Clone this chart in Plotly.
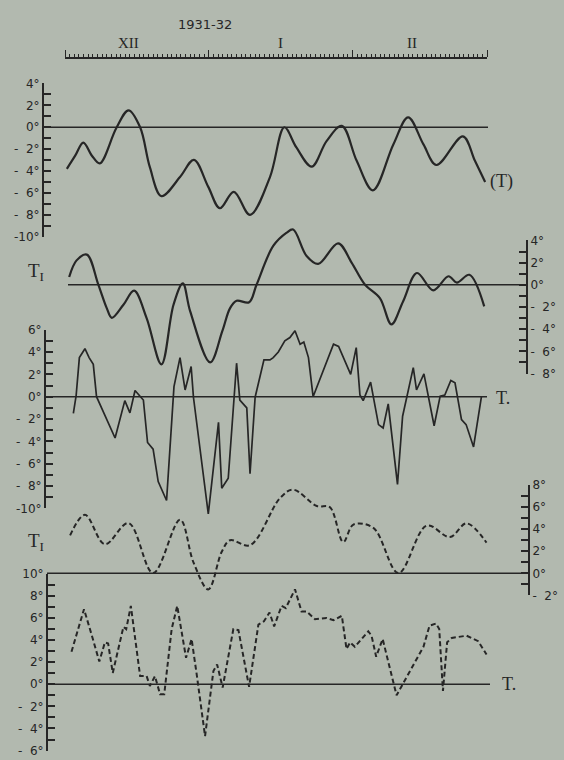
import plotly.graph_objects as go

W, H = 564, 760
BG = "#b2b9af"
INK = "#262626"

# ---------------- data ----------------
year_label = "1931-32"
month_labels = ["XII", "I", "II"]
month_label_days = [13.6, 46.4, 74.8]
month_ticks = [0, 31, 62, 91]          # Dec 1, Jan 1, Feb 1, Mar 1 (day index)

# (T) smoothed
t_smooth_days = [0.4, 2.2, 3.95, 5.8, 7.5, 11.1, 13.7, 16.2, 18.3, 20.8, 24.8, 27.8, 30.9, 33.4,
                 36.4, 39.9, 44.2, 47.3, 49.9, 53.2, 56.4, 59.7, 62.9, 66.4, 70.8, 74.0, 77.3,
                 80.1, 85.8, 88.4, 90.6]
t_smooth_vals = [-3.8, -2.6, -1.4, -2.6, -3.3, -0.05, 1.55, 0.0, -3.65, -6.3, -4.55, -2.98, -5.45, -7.4,
                 -5.9, -8.0, -4.55, 0.0, -1.85, -3.6, -1.27, 0.13, -3.07, -5.76, -1.57, 0.91, -1.57,
                 -3.45, -0.83, -3.07, -5.0]

# T_I smoothed
ti_smooth_days = [0.9, 2.5, 4.7, 7.2, 9.0, 10.1, 12.6, 14.9, 17.6, 20.8, 23.4, 25.4, 27.0, 31.3, 33.9,
                  35.6, 37.0, 39.7, 41.3, 44.9, 47.8, 49.2, 52.1, 54.6, 58.9, 61.8, 64.7, 67.9, 70.4,
                  72.9, 75.9, 79.4, 82.7, 84.5, 87.2, 90.4]
ti_smooth_vals = [0.7, 2.2, 2.72, 0.0, -2.1, -2.98, -1.8, -0.53, -3.0, -7.17, -1.8, 0.12, -2.4, -7.0, -4.2,
                  -2.1, -1.44, -1.57, 0.0, 3.5, 4.7, 4.98, 2.6, 1.88, 3.74, 2.0, 0.0, -1.2, -3.57,
                  -1.5, 1.06, -0.5, 0.77, 0.2, 0.9, -1.95]

# T daily
t_days = [1.8, 2.4, 3.1, 4.3, 5.2, 6.1, 6.8, 10.8, 12.9, 14.0, 15.1, 16.9, 17.8, 19.0, 20.1, 21.9,
          23.5, 24.8, 25.9, 27.2, 27.7, 30.9, 33.1, 33.8, 35.2, 37.0, 37.7, 39.2, 39.9, 41.0, 42.9,
          44.2, 44.9, 46.0, 47.4, 48.5, 49.6, 50.7, 51.5, 52.5, 53.5, 57.9, 59.0, 60.4, 61.6, 62.8,
          63.6, 64.3, 65.9, 67.6, 68.6, 69.7, 71.7, 72.8, 75.1, 75.8, 77.4, 79.6, 80.9, 81.9, 83.2,
          84.1, 85.5, 86.5, 88.1, 89.8]
t_vals = [-1.5, 0.1, 3.5, 4.3, 3.5, 2.9, 0.0, -3.7, -0.35, -1.45, 0.55, -0.3, -4.1, -4.7, -7.6, -9.3,
          0.9, 3.5, 0.6, 2.7, -0.05, -10.5, -2.3, -8.2, -7.3, 3.0, -0.3, -1.0, -6.9, -0.05, 3.3,
          3.3, 3.5, 4.0, 5.0, 5.3, 5.9, 4.7, 4.9, 3.5, 0.0, 4.7, 4.5, 3.2, 2.0, 4.4,
          0.15, -0.35, 1.3, -2.5, -2.8, -0.65, -7.85, -1.75, 2.6, 0.6, 2.05, -2.6, 0.05, 0.15, 1.45,
          1.25, -2.05, -2.5, -4.5, 0.0]

# T_I daily (dashed)
ti_days = [1.1, 4.3, 8.6, 13.7, 19.0, 24.8, 27.7, 30.9, 33.8, 35.6, 39.9, 46.4, 49.2, 54.3, 57.1,
           60.0, 62.2, 66.5, 71.9, 78.0, 83.0, 86.6, 90.9]
ti_vals = [3.44, 5.3, 2.64, 4.56, 0.03, 4.86, 1.0, -1.45, 1.96, 3.0, 2.55, 6.84, 7.58, 6.1, 6.0,
           2.84, 4.42, 4.12, 0.03, 4.33, 3.29, 4.53, 2.78]

# T daily (dashed)
t2_days = [1.4, 4.1, 5.8, 7.4, 8.6, 9.3, 10.3, 12.6, 13.2, 14.2, 16.2, 17.6, 18.3, 19.4, 20.5, 21.4,
           23.0, 24.2, 26.1, 27.3, 28.4, 30.2, 32.0, 32.8, 34.0, 36.3, 37.4, 39.7, 41.7, 42.9, 44.1,
           45.1, 46.7, 47.6, 49.6, 51.0, 52.1, 53.9, 56.4, 57.9, 59.7, 60.7, 61.5, 62.5, 65.4, 66.1,
           67.1, 68.5, 71.5, 77.3, 78.6, 80.0, 80.7, 81.5, 82.4, 83.4, 86.6, 89.1, 90.9]
t2_vals = [2.95, 6.8, 4.4, 2.06, 3.8, 3.7, 1.03, 5.2, 5.0, 7.1, 0.74, 0.74, -0.15, 0.74, -0.9, -0.9,
           5.0, 7.1, 2.4, 4.1, 0.9, -4.7, 1.2, 1.8, -0.3, 5.0, 4.9, -0.24, 5.4, 5.7, 6.5,
           5.25, 7.1, 6.9, 8.6, 6.6, 6.6, 5.9, 6.0, 5.8, 6.2, 3.2, 3.8, 3.4, 4.8, 4.4,
           2.5, 4.1, -1.0, 3.4, 5.3, 5.5, 5.0, -0.6, 3.8, 4.2, 4.4, 3.9, 2.7]

# ---------------- layout geometry (pixels) ----------------
X0_PX, X1_PX, N_DAYS = 65, 487, 91
PX_PER_DAY = (X1_PX - X0_PX) / N_DAYS
RULER_Y_PX = 52

panels = [
    dict(zero=122.5, scale=11.15, lo=-10, hi=4, axis_x=43, side="left", zl=(43, 488)),
    dict(zero=283.0, scale=11.30, lo=-8, hi=4, axis_x=527, side="right", zl=(68, 527)),
    dict(zero=397.0, scale=11.375, lo=-10, hi=6, axis_x=45, side="left", zl=(45, 487)),
    dict(zero=577.0, scale=11.25, lo=-2, hi=8, axis_x=529, side="right", zl=(47, 529)),
    dict(zero=690.0, scale=11.25, lo=-6, hi=10, axis_x=47, side="left", zl=(47, 490)),
]


def fx(px):
    return px / W


def fy(py):
    return 1 - py / H


def deg_label(v):
    if v >= 0:
        return f"{v}°"
    if v <= -10:
        return f"-{-v}°"
    return f"-\u00a0\u00a0{-v}°"


fig = go.Figure()

series = [
    (t_smooth_days, t_smooth_vals, "spline", "solid", 2.2),
    (ti_smooth_days, ti_smooth_vals, "spline", "solid", 2.2),
    (t_days, t_vals, "linear", "solid", 1.7),
    (ti_days, ti_vals, "spline", "5px,3px", 2.0),
    (t2_days, t2_vals, "linear", "5px,3px", 2.0),
]
for i, (xs, ys, shape, dash, w) in enumerate(series):
    fig.add_trace(go.Scatter(
        x=xs, y=ys, mode="lines", xaxis="x", yaxis="y" if i == 0 else f"y{i+1}",
        line=dict(color=INK, width=w, shape=shape, dash=dash, smoothing=1.0),
        hoverinfo="skip", showlegend=False))

axis_common = dict(showgrid=False, zeroline=False)
x_lo = -X0_PX / PX_PER_DAY
x_hi = (W - X0_PX) / PX_PER_DAY
layout = dict(
    width=W, height=H, margin=dict(l=0, r=0, t=0, b=0, pad=0),
    paper_bgcolor=BG, plot_bgcolor="rgba(0,0,0,0)", showlegend=False, hovermode=False,
    xaxis=dict(domain=[0, 1], range=[x_lo, x_hi], visible=False, **axis_common),
    xaxis2=dict(domain=[fx(X0_PX), fx(X1_PX)], range=[0, N_DAYS], anchor="free",
                position=fy(RULER_Y_PX), side="top", showline=True, linecolor=INK, linewidth=1.5,
                ticks="outside", tickvals=month_ticks, ticklen=7, tickwidth=1.2, tickcolor=INK,
                showticklabels=False,
                minor=dict(ticks="outside", tickmode="linear", tick0=0, dtick=1, ticklen=3,
                           tickwidth=0.9, tickcolor=INK),
                **axis_common),
)

shapes = []
for i, p in enumerate(panels):
    z, s = p["zero"], p["scale"]
    key = "yaxis" if i == 0 else f"yaxis{i+1}"
    d = dict(domain=[0, 1], range=[(z - H) / s, z / s], visible=False, **axis_common)
    if i > 0:
        d["overlaying"] = "y"
    layout[key] = d
    # display ruler
    rk = f"yaxis{i+6}"
    ytop = z - s * p["hi"]
    ybot = z - s * p["lo"]
    vals = [v for v in range(p["lo"], p["hi"] + 1) if v % 2 == 0]
    layout[rk] = dict(
        domain=[fy(ybot), fy(ytop)], range=[p["lo"], p["hi"]], anchor="free",
        position=fx(p["axis_x"]), side=p["side"], showline=True, linecolor=INK, linewidth=2,
        ticks="inside", ticklen=7, tickwidth=1.6, tickcolor=INK, tickvals=vals,
        ticktext=[deg_label(v) for v in vals],
        minor=dict(ticks="inside", tickmode="linear", tick0=0, dtick=1, ticklen=7,
                   tickwidth=1.6, tickcolor=INK),
        tickfont=dict(family="DejaVu Sans", size=12, color=INK), **axis_common)
    fig.add_trace(go.Scatter(x=[0], y=[p["lo"]], xaxis="x", yaxis=f"y{i+6}", mode="markers",
                             marker=dict(opacity=0, size=1), hoverinfo="skip", showlegend=False))
    shapes.append(dict(type="line", xref="paper", yref="y" if i == 0 else f"y{i+1}",
                       x0=fx(p["zl"][0]), x1=fx(p["zl"][1]), y0=0, y1=0,
                       line=dict(color=INK, width=1.5)))

# dummy trace to register the top time ruler
fig.add_trace(go.Scatter(x=[0], y=[0], xaxis="x2", yaxis="y6", mode="markers",
                         marker=dict(opacity=0, size=1), hoverinfo="skip", showlegend=False))

layout["shapes"] = shapes

serif = dict(family="Liberation Serif", color=INK)
ann = [
    dict(text=year_label, x=fx(205), y=fy(18), font=dict(family="DejaVu Sans", size=13, color=INK)),
    dict(text="(T)", x=fx(501), y=fy(178), font=dict(size=18, **serif)),
    dict(text="T<sub>I</sub>", x=fx(36), y=fy(270), font=dict(size=19, **serif)),
    dict(text="T.", x=fx(503), y=fy(398), font=dict(size=18, **serif)),
    dict(text="T<sub>I</sub>", x=fx(36), y=fy(545), font=dict(size=19, **serif)),
    dict(text="T.", x=fx(509), y=fy(690), font=dict(size=18, **serif)),
]
for lab, d in zip(month_labels, month_label_days):
    ann.append(dict(text=lab, x=fx(X0_PX + d * PX_PER_DAY), y=fy(37),
                    font=dict(size=15, **serif)))
layout["annotations"] = [dict(xref="paper", yref="paper", showarrow=False, xanchor="center",
                              yanchor="middle", **a) for a in ann]

fig.update_layout(**layout)
fig.write_html("out.html", config={"displayModeBar": False},
               post_script="document.body.style.margin='0';")
